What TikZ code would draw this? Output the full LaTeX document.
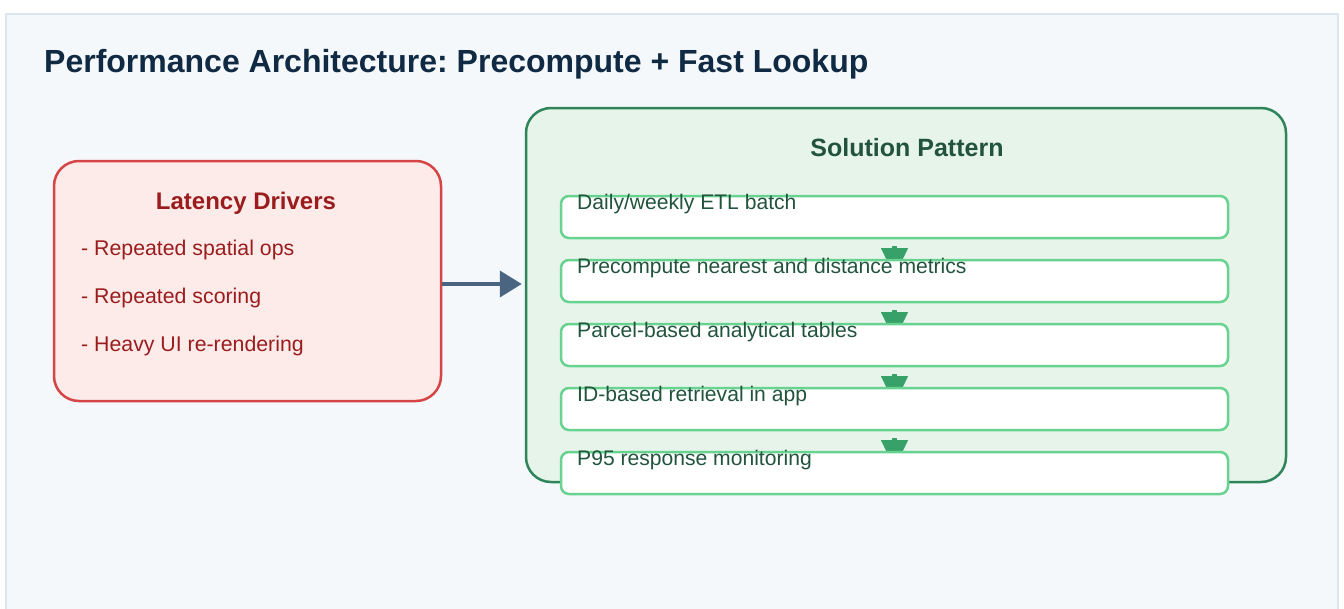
\documentclass[tikz,border=0pt]{standalone}
\usepackage{fontspec}
\setmainfont{Liberation Sans}
\usetikzlibrary{positioning,arrows.meta}
\frenchspacing

\definecolor{framefill}{HTML}{F4F8FB}
\definecolor{frameline}{HTML}{DCE4EE}
\definecolor{headcol}{HTML}{102A43}
\definecolor{driverfill}{HTML}{FDEBEA}
\definecolor{driverline}{HTML}{D64545}
\definecolor{drivertext}{HTML}{9B1C1C}
\definecolor{flowcol}{HTML}{4A6582}
\definecolor{patternfill}{HTML}{E6F4EA}
\definecolor{patternline}{HTML}{2F855A}
\definecolor{patterntext}{HTML}{22543D}
\definecolor{stepline}{HTML}{68D391}
\definecolor{steparrowcol}{HTML}{38A169}

\pgfdeclarelayer{fg}
\pgfsetlayers{main,fg}

\begin{document}
\begin{tikzpicture}
    [
      x=1pt, y=-1pt,
      >/.tip={Triangle[length=22pt,width=26pt]},
      drivers box/.style={draw=driverline, fill=driverfill, line width=2.5pt, rounded corners=25pt, minimum width=387pt, minimum height=240pt},
      pattern box/.style={draw=patternline, fill=patternfill, line width=2.5pt, rounded corners=25pt, minimum width=760pt, minimum height=374pt},
      step box/.style={draw=stepline, fill=white, line width=2.5pt, rounded corners=8pt, minimum width=667pt, minimum height=42pt, inner sep=0pt, outer sep=0pt},
      step text/.style={anchor=base west, inner sep=0pt, text=patterntext, font=\fontsize{21.1}{25}\selectfont},
      item text/.style={anchor=base west, inner sep=0pt, text=drivertext, font=\fontsize{21.3}{25}\selectfont},
      box title/.style={anchor=base, inner sep=0pt, font=\fontsize{24}{29}\selectfont\bfseries},
      flow/.style={->, draw=flowcol, fill=flowcol, line width=4pt},
      step arrow/.style={-{Triangle[length=28pt,width=26pt]}, draw=steparrowcol, fill=steparrowcol, line width=5pt}
    ]
    \useasboundingbox (0,0) rectangle (1344,608);
    \fill [white] (0,0) rectangle (1344,608);
    \path [draw=frameline, fill=framefill, line width=2.5pt] (6,14) rectangle (1338,616);

    \node (title) [anchor=base west, inner sep=0pt, text=headcol, font=\fontsize{32}{38}\selectfont\bfseries] at (44,72.5) {Performance Architecture: Precompute + Fast Lookup};

    % left side
    \node (drivers) [drivers box] at (247.5,281) {};
    \node (drivers title) [box title, text=drivertext] at (246,209.3) {Latency Drivers};
    \node (item1) [item text] at (81,255.5) {- Repeated spatial ops};
    \node (item2) [item text] at (81,303.5) {- Repeated scoring};
    \node (item3) [item text] at (81,351.5) {- Heavy UI re-rendering};

    % right side
    \node (pattern) [pattern box] at (906,295) {};
    \node (pattern title) [box title, text=patterntext, font=\fontsize{25}{30}\selectfont\bfseries] at (907,156) {Solution Pattern};

    \path [flow, shorten >=3pt] ([yshift=-3pt]drivers.east) -- ([yshift=-3pt]drivers.east -| pattern.west);

    \begin{pgfonlayer}{fg}
      \node (s1) [step box] at (894.5,217) {};
      \node (s2) [step box, below=22pt of s1] {};
      \node (s3) [step box, below=22pt of s2] {};
      \node (s4) [step box, below=22pt of s3] {};
      \node (s5) [step box, below=22pt of s4] {};
      \node (t1) [step text] at ([xshift=16pt,yshift=-13pt]s1.north west) {Daily/weekly ETL batch};
      \node (t2) [step text] at ([xshift=16pt,yshift=-13pt]s2.north west) {Precompute nearest and distance metrics};
      \node (t3) [step text] at ([xshift=16pt,yshift=-13pt]s3.north west) {Parcel-based analytical tables};
      \node (t4) [step text] at ([xshift=16pt,yshift=-13pt]s4.north west) {ID-based retrieval in app};
      \node (t5) [step text] at ([xshift=16pt,yshift=-13pt]s5.north west) {P95 response monitoring};
    \end{pgfonlayer}

    \path [step arrow] ([yshift=-8pt]s1.south) -- ([yshift=-16pt]s2.north);
    \path [step arrow] ([yshift=-8pt]s2.south) -- ([yshift=-16pt]s3.north);
    \path [step arrow] ([yshift=-8pt]s3.south) -- ([yshift=-16pt]s4.north);
    \path [step arrow] ([yshift=-8pt]s4.south) -- ([yshift=-16pt]s5.north);
  \end{tikzpicture}
\end{document}
